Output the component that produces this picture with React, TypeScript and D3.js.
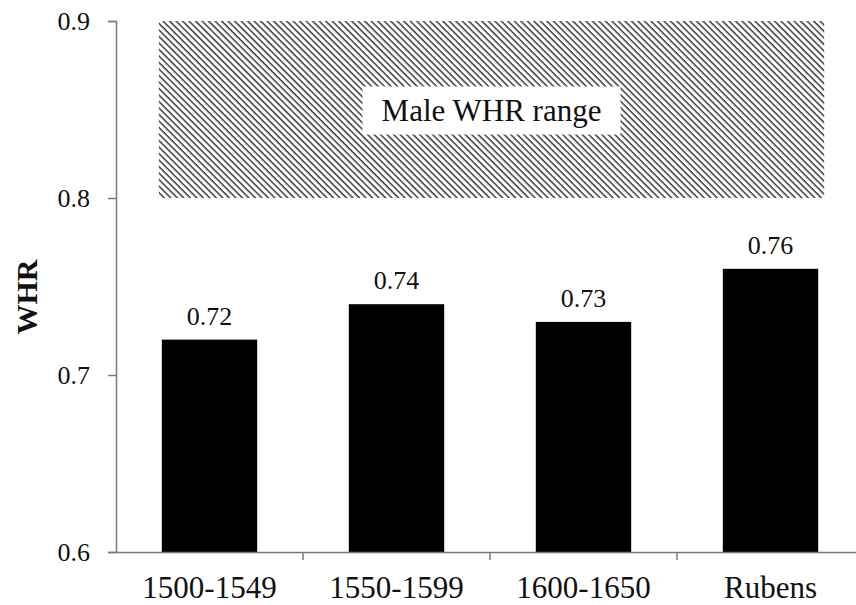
import React, { useEffect, useRef } from 'react';
import * as d3 from 'd3';

const categories = ['1500-1549', '1550-1599', '1600-1650', 'Rubens'];
const whrValues = [0.72, 0.74, 0.73, 0.76];
const yTicks = [0.6, 0.7, 0.8, 0.9];
const maleRange = [0.8, 0.9];
const maleLabel = 'Male WHR range';

const W = 856;
const H = 605;
const FONT = '"Liberation Serif", "Times New Roman", serif';

const App: React.FC = () => {
    const svgRef = useRef<SVGSVGElement>(null);

    useEffect(() => {
        if (!svgRef.current) return;
        const svg = d3.select(svgRef.current);
        svg.selectAll('*').remove();

        const left = 116;
        const top = 21;
        const bottom = 552;

        const x = d3.scaleBand<string>()
            .domain(categories)
            .range([left, left + 187 * categories.length])
            .paddingInner(0.49)
            .paddingOuter(0.245);

        const y = d3.scaleLinear()
            .domain([0.6, 0.9])
            .range([bottom, top]);

        // hatch pattern (lines running top-left to bottom-right)
        const defs = svg.append('defs');
        const pat = defs.append('pattern')
            .attr('id', 'hatch')
            .attr('patternUnits', 'userSpaceOnUse')
            .attr('width', 4.6)
            .attr('height', 4.6)
            .attr('patternTransform', 'rotate(45)');
        pat.append('rect').attr('width', 4.6).attr('height', 4.6).attr('fill', '#fff');
        pat.append('line')
            .attr('x1', 0).attr('y1', 0).attr('x2', 4.6).attr('y2', 0)
            .attr('stroke', '#3a3a3a')
            .attr('stroke-width', 3);

        // male range band
        const hx0 = (x(categories[0]) ?? 0) - 3;
        const hx1 = (x(categories[categories.length - 1]) ?? 0) + x.bandwidth() + 6;
        svg.append('rect')
            .attr('x', hx0)
            .attr('y', y(maleRange[1]))
            .attr('width', hx1 - hx0)
            .attr('height', y(maleRange[0]) - y(maleRange[1]))
            .attr('fill', 'url(#hatch)');

        const mid = (hx0 + hx1) / 2;
        const bandMid = (y(maleRange[0]) + y(maleRange[1])) / 2;
        svg.append('rect')
            .attr('x', mid - 129)
            .attr('y', bandMid - 23)
            .attr('width', 258)
            .attr('height', 48)
            .attr('fill', '#fff');
        svg.append('text')
            .attr('x', mid)
            .attr('y', bandMid + 11)
            .attr('text-anchor', 'middle')
            .style('font-family', FONT)
            .style('font-size', '31px')
            .attr('fill', '#111')
            .text(maleLabel);

        // bars
        svg.selectAll('.bar')
            .data(whrValues)
            .enter().append('rect')
            .attr('class', 'bar')
            .attr('x', (_, i) => x(categories[i]) ?? 0)
            .attr('y', d => y(d))
            .attr('width', x.bandwidth())
            .attr('height', d => bottom - y(d))
            .attr('fill', '#000');

        svg.selectAll('.val')
            .data(whrValues)
            .enter().append('text')
            .attr('class', 'val')
            .attr('x', (_, i) => (x(categories[i]) ?? 0) + x.bandwidth() / 2)
            .attr('y', d => y(d) - 15)
            .attr('text-anchor', 'middle')
            .style('font-family', FONT)
            .style('font-size', '26px')
            .attr('fill', '#111')
            .text(d => d.toFixed(2));

        // axes
        const axisColor = '#7a7a7a';
        const yAxis = svg.append('g')
            .attr('transform', `translate(${left},0)`)
            .call(d3.axisLeft(y).tickValues(yTicks).tickFormat(d3.format('.1f')).tickSize(8).tickSizeOuter(8).tickPadding(18));
        yAxis.select('.domain').attr('stroke', axisColor).attr('stroke-width', 1.5);
        yAxis.selectAll('.tick line').attr('stroke', axisColor).attr('stroke-width', 1.5);
        yAxis.selectAll('text')
            .style('font-family', FONT)
            .style('font-size', '26px')
            .attr('fill', '#111');

        const xAxis = svg.append('g')
            .attr('transform', `translate(0,${bottom})`)
            .call(d3.axisBottom(x).tickSize(0).tickSizeOuter(0).tickPadding(24));
        xAxis.select('.domain').attr('stroke', axisColor).attr('stroke-width', 1.5);
        xAxis.selectAll('text')
            .style('font-family', FONT)
            .style('font-size', '31px')
            .attr('fill', '#111');

        // category separator ticks
        const seps = categories.slice(1).map(c => (x(c) ?? 0) - (x.step() - x.bandwidth()) / 2);
        xAxis.selectAll('.sep')
            .data(seps)
            .enter().append('line')
            .attr('class', 'sep')
            .attr('x1', d => d).attr('x2', d => d)
            .attr('y1', 0).attr('y2', 8)
            .attr('stroke', axisColor)
            .attr('stroke-width', 1.5);

        // y title
        svg.append('text')
            .attr('transform', `translate(37,${297}) rotate(-90)`)
            .attr('text-anchor', 'middle')
            .style('font-family', FONT)
            .style('font-size', '30px')
            .style('font-weight', 'bold')
            .attr('fill', '#111')
            .text('WHR');
    }, []);

    return (
        <svg ref={svgRef} width={W} height={H} style={{ position: 'absolute', left: 0, top: 0, background: '#fff' }} />
    );
};

export default App;
